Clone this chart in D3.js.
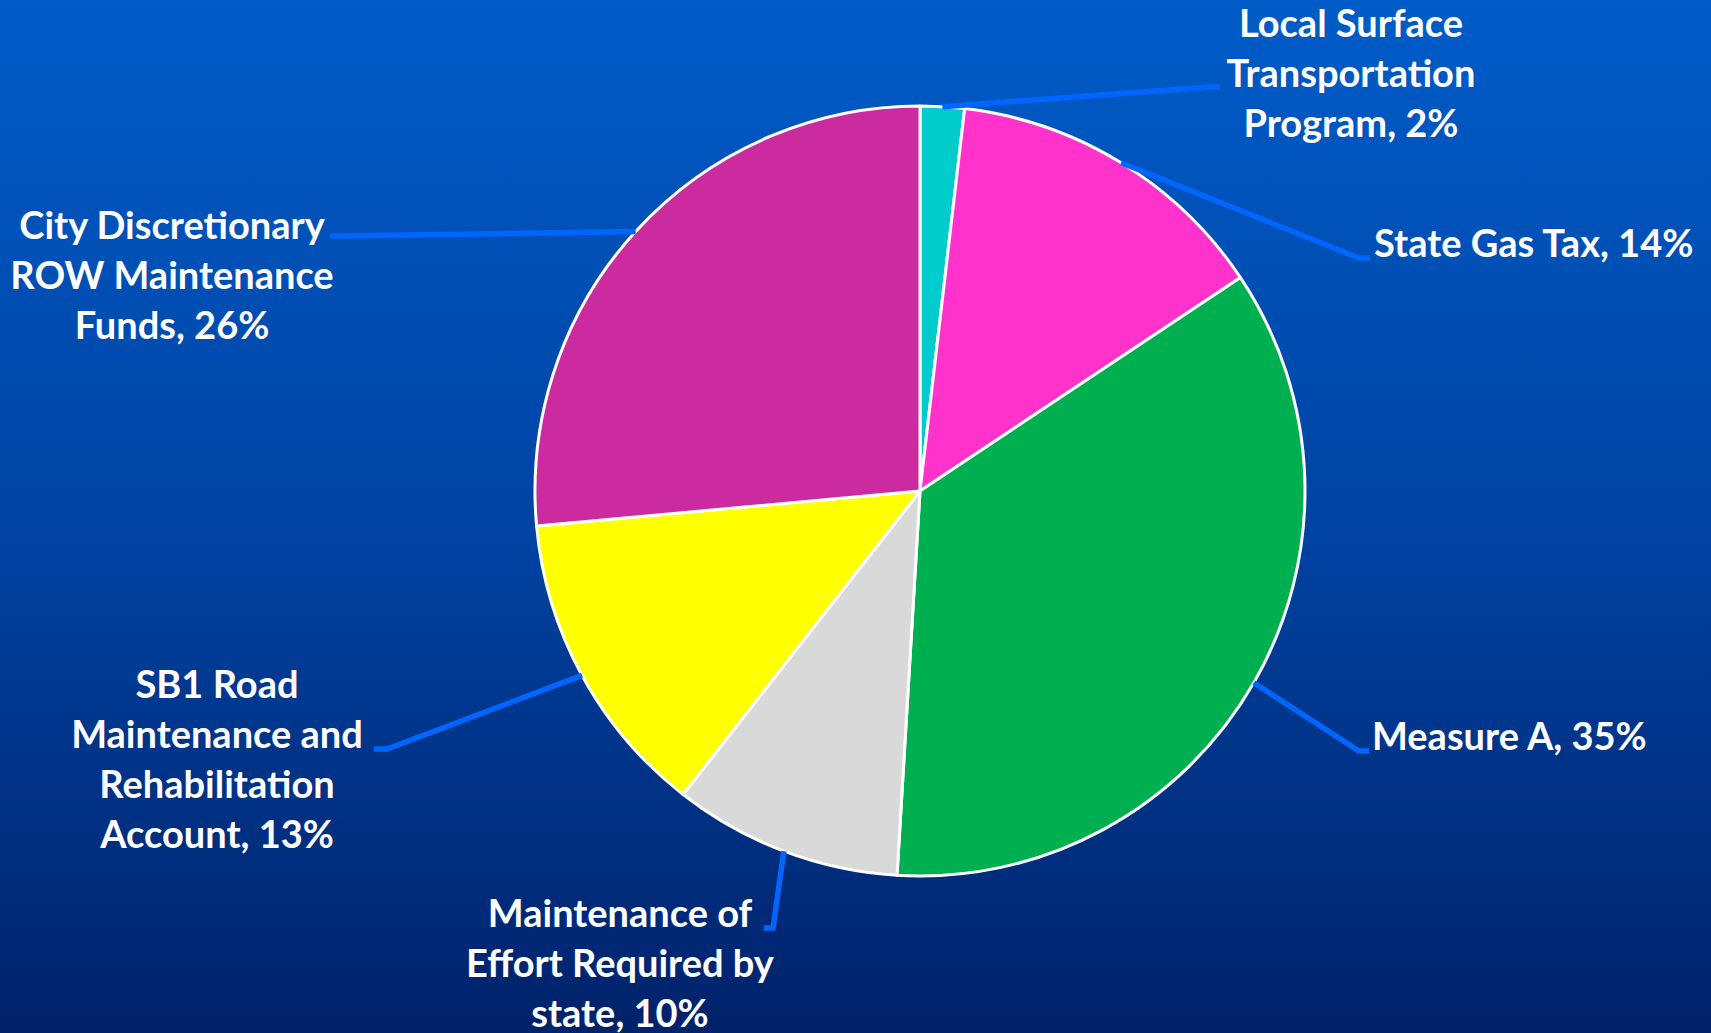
<!DOCTYPE html>
<html>
<head>
<meta charset="utf-8">
<script src="https://cdn.jsdelivr.net/npm/d3@7"></script>
<style>
  html, body { margin: 0; padding: 0; overflow: hidden; }
  body { width: 1711px; height: 1033px; }
  .label { font-family: Lato, "Open Sans", sans-serif; font-weight: bold; fill: #fff; }
</style>
</head>
<body>
<div class="chart"></div>
<script>
// funding sources, clockwise from 12 o'clock
const sources = ['Local Surface Transportation Program', 'State Gas Tax', 'Measure A',
  'Maintenance of Effort Required by state', 'SB1 Road Maintenance and Rehabilitation Account',
  'City Discretionary ROW Maintenance Funds'];
const shares = [1.85, 13.8, 35.3, 9.6, 13.0, 26.45];
const shareLabels = ['2%', '14%', '35%', '10%', '13%', '26%'];
const colors = ['#00CCCC', '#FF33CC', '#00B050', '#D9D9D9', '#FFFF00', '#CC2A9F'];

// label text as it wraps on the slide
const labelLines = [
  ['Local Surface', 'Transportation', 'Program, 2%'],
  ['State Gas Tax, 14%'],
  ['Measure A, 35%'],
  ['Maintenance of', 'Effort Required by', 'state, 10%'],
  ['SB1 Road', 'Maintenance and', 'Rehabilitation', 'Account, 13%'],
  ['City Discretionary', 'ROW Maintenance', 'Funds, 26%']
];

// label placement: text anchor point, where leader line ends
const labelLayout = [
  {x: 1351, y: 24, anchor: 'middle', elbow: [1210, 87], end: [1220, 87]},
  {x: 1374, y: 244, anchor: 'start', elbow: [1359, 258], end: [1370, 258]},
  {x: 1372, y: 737, anchor: 'start', elbow: [1359, 751], end: [1369, 751]},
  {x: 620, y: 914, anchor: 'middle', elbow: [773, 928], end: [764, 928]},
  {x: 217, y: 685, anchor: 'middle', elbow: [387, 749], end: [374, 749]},
  {x: 172, y: 226, anchor: 'middle', elbow: [340, 236], end: [330, 236]}
];

const width = 1711, height = 1033;
const cx = 920, cy = 491, radius = 385;
const lineHeight = 50;

const svg = d3.select('.chart')
  .append('svg')
  .attr('width', width)
  .attr('height', height);

const grad = svg.append('defs').append('linearGradient')
  .attr('id', 'bg')
  .attr('x1', 0).attr('y1', 0).attr('x2', 0).attr('y2', 1);
grad.append('stop').attr('offset', '0%').attr('stop-color', '#005CC8');
grad.append('stop').attr('offset', '50%').attr('stop-color', '#0044A4');
grad.append('stop').attr('offset', '100%').attr('stop-color', '#00226A');

svg.append('rect')
  .attr('width', width)
  .attr('height', height)
  .attr('fill', 'url(#bg)');

const data = sources.map((s, i) => ({name: s, value: shares[i], i: i}));

const pie = d3.pie()
  .value(d => d.value)
  .sort(null);

const arc = d3.arc()
  .innerRadius(0)
  .outerRadius(radius);

const arcs = pie(data);

const g = svg.append('g')
  .attr('transform', `translate(${cx},${cy})`);

g.selectAll('path')
  .data(arcs)
  .enter()
  .append('path')
  .attr('d', arc)
  .attr('fill', d => colors[d.data.i])
  .attr('stroke', '#fff')
  .attr('stroke-width', 3)
  .attr('stroke-linejoin', 'round');

// leader lines start on the rim at the slice middle
svg.selectAll('.leader')
  .data(arcs)
  .enter()
  .append('polyline')
  .attr('class', 'leader')
  .attr('points', d => {
    const a = (d.startAngle + d.endAngle) / 2;
    const p = [cx + radius * Math.sin(a), cy - radius * Math.cos(a)];
    const l = labelLayout[d.data.i];
    return [p, l.elbow, l.end].map(q => q.join(',')).join(' ');
  })
  .attr('fill', 'none')
  .attr('stroke', '#0066FF')
  .attr('stroke-width', 5.5);

const labels = svg.selectAll('.label')
  .data(arcs)
  .enter()
  .append('text')
  .attr('class', 'label')
  .attr('font-size', 38)
  .attr('text-anchor', d => labelLayout[d.data.i].anchor)
  .attr('x', d => labelLayout[d.data.i].x)
  .attr('y', d => labelLayout[d.data.i].y);

labels.selectAll('tspan')
  .data(d => labelLines[d.data.i].map(t => ({t: t, x: labelLayout[d.data.i].x})))
  .enter()
  .append('tspan')
  .attr('x', d => d.x)
  .attr('dy', (d, i) => i === 0 ? '0.35em' : lineHeight)
  .text(d => d.t);
</script>
</body>
</html>
